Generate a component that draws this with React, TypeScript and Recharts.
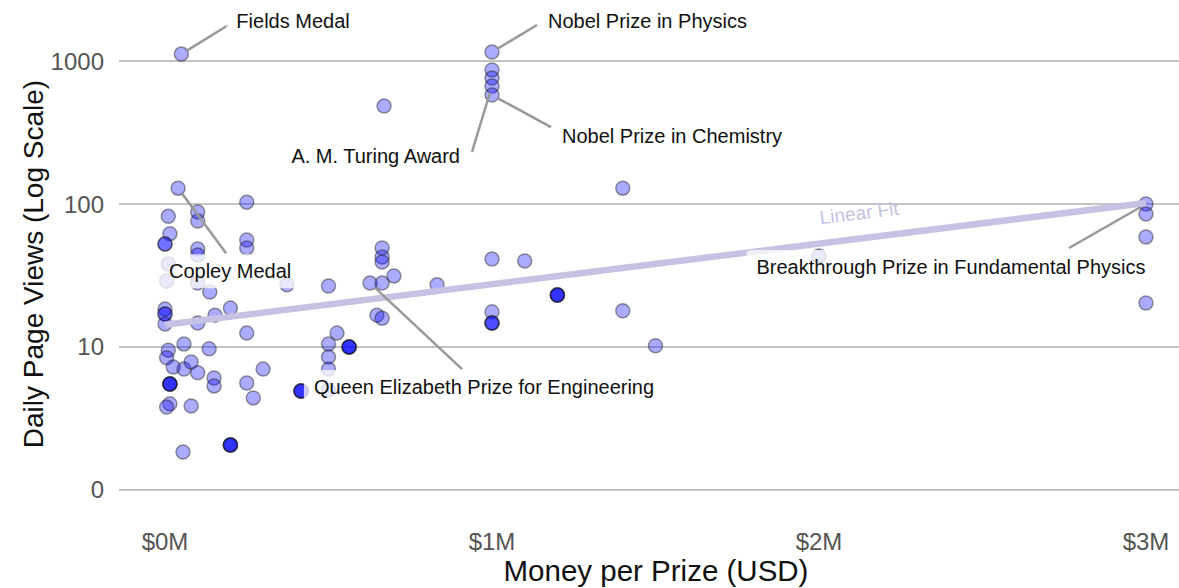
import React from 'react';
import { ScatterChart, Scatter, XAxis, YAxis, ReferenceLine, ReferenceDot } from 'recharts';

// prize money (USD) and daily page views, one entry per prize
const moneyUSD = [
  10000, 15000, 0, 0, 10000, 5000, 0, 0, 0, 0, 10000, 5000,
  15000, 15000, 15000, 15000, 15000, 5000, 25000, 40000, 55000, 58000, 58000,
  80000, 80000, 100000, 100000, 100000, 100000, 100000, 100000, 100000,
  135000, 137000, 150000, 150000, 153000, 200000, 200000, 200000, 200000, 200000,
  250000, 250000, 250000, 250000, 250000, 270000, 300000, 373000,
  416000, 416000, 416000, 416000, 500000, 500000, 500000, 500000, 500000, 526000,
  563000, 563000, 563000, 563000, 627000, 648000, 664000, 664000, 664000, 664000,
  664000, 700000, 670000, 832000, 1000000, 1000000, 1000000, 1000000, 1000000,
  1000000, 1000000, 1000000, 1000000, 1000000, 1100000, 1200000, 1200000, 1200000,
  1200000, 1400000, 1400000, 1500000, 2000000, 3000000, 3000000, 3000000, 3000000,
  50000,
];
const pageViews = [
  82, 62, 52.5, 52.5, 38, 29, 18.4, 17, 17, 14.5, 9.5, 8.4,
  5.5, 5.5, 5.5, 5.5, 4.0, 3.8, 7.25, 129, 1.84, 10.5, 7.0,
  7.85, 3.87, 88, 76, 48.5, 44, 28, 14.7, 6.6,
  9.7, 24.2, 6.07, 5.34, 16.7, 18.7, 2.06, 2.06, 2.06, 2.06,
  103, 56, 49.3, 12.5, 5.6, 4.4, 7.0, 27.2,
  4.92, 4.92, 4.92, 4.92, 26.7, 10.5, 8.5, 7.0, 5.0, 12.5,
  10, 10, 10, 10, 28, 16.7, 15.9, 49.3, 42.6, 39.3,
  28, 31.4, 484, 27.2, 1156, 865, 760, 669, 578,
  41.2, 17.6, 14.7, 14.7, 14.7, 40, 23.1, 23.1, 23.1,
  23.1, 129, 17.9, 10.2, 43.3, 100, 85, 58.8, 20.3,
  1119,
];

const xTicks = [0, 1000000, 2000000, 3000000];
const yTicks = [1, 10, 100, 1000];

const fitMoney = [0, 3000000];
const fitViews = [14.3, 101.6];

// labelled prizes
const annotationNames = [
  'Fields Medal',
  'Nobel Prize in Physics',
  'Nobel Prize in Chemistry',
  'A. M. Turing Award',
  'Copley Medal',
  'Queen Elizabeth Prize for Engineering',
  'Breakthrough Prize in Fundamental Physics',
];
const annotationMoney = [50000, 1000000, 1000000, 1000000, 40000, 627000, 3000000];
const annotationViews = [1119, 1156, 578, 669, 129, 28, 100];

// pixel offsets from the point: line end (lx, ly), text anchor (tx, ty)
const LABEL_LAYOUT: Record<string, { lx: number; ly: number; tx: number; ty: number; anchor: 'start' | 'middle' | 'end' }> = {
  'Fields Medal': { lx: 47, ly: -29, tx: 55, ty: -33, anchor: 'start' },
  'Nobel Prize in Physics': { lx: 45, ly: -27, tx: 56, ty: -31, anchor: 'start' },
  'Nobel Prize in Chemistry': { lx: 59, ly: 32, tx: 70, ty: 41, anchor: 'start' },
  'A. M. Turing Award': { lx: -20, ly: 66, tx: -32, ty: 70, anchor: 'end' },
  'Copley Medal': { lx: 48, ly: 65, tx: 52, ty: 83, anchor: 'middle' },
  'Queen Elizabeth Prize for Engineering': { lx: 92, ly: 86, tx: 114, ty: 104, anchor: 'middle' },
  'Breakthrough Prize in Fundamental Physics': { lx: -77, ly: 44, tx: -195, ty: 63, anchor: 'middle' },
};

const FONT = '"Liberation Sans", Arial, Helvetica, sans-serif';
const LABEL_SIZE = 20;
const FIT_COLOR = '#c6c2e4';

const points = moneyUSD.map((x, i) => ({ x, y: pageViews[i] }));
const fitPoints = fitMoney.map((x, i) => ({ x, y: fitViews[i] }));

let measureCtx: CanvasRenderingContext2D | null = null;
function textWidth(s: string) {
  if (!measureCtx) measureCtx = document.createElement('canvas').getContext('2d');
  if (!measureCtx) return s.length * LABEL_SIZE * 0.5;
  measureCtx.font = `${LABEL_SIZE}px ${FONT}`;
  return measureCtx.measureText(s).width;
}

// value on the fit line (straight in log space)
function fitAt(x: number) {
  const t = (x - fitMoney[0]) / (fitMoney[1] - fitMoney[0]);
  const l0 = Math.log10(fitViews[0]);
  const l1 = Math.log10(fitViews[1]);
  return Math.pow(10, l0 + (l1 - l0) * t);
}

const Dot = (props: any) => (
  <circle
    cx={props.cx}
    cy={props.cy}
    r={7}
    fill="#0000ff"
    fillOpacity={0.33}
    stroke="#222"
    strokeOpacity={0.45}
    strokeWidth={1.5}
  />
);

const Callout = (props: any) => {
  const { cx, cy, name } = props;
  const o = LABEL_LAYOUT[name];
  const len = Math.hypot(o.lx, o.ly);
  const sx = cx + (o.lx / len) * 7;
  const sy = cy + (o.ly / len) * 7;
  const w = textWidth(name);
  const tx = cx + o.tx;
  const ty = cy + o.ty;
  const left = o.anchor === 'start' ? tx : o.anchor === 'end' ? tx - w : tx - w / 2;
  return (
    <g>
      <line x1={sx} y1={sy} x2={cx + o.lx} y2={cy + o.ly} stroke="#999" strokeWidth={2.5} />
      <rect x={left - 10} y={ty - 17} width={w + 20} height={34} rx={5} fill="#fff" fillOpacity={0.75} />
      <text x={tx} y={ty} dy="0.35em" textAnchor={o.anchor} fontSize={LABEL_SIZE} fill="#111">
        {name}
      </text>
    </g>
  );
};

const FitLabel = (props: any) => (
  <text
    x={props.cx}
    y={props.cy - 19}
    textAnchor="middle"
    fontSize={19}
    fill={FIT_COLOR}
    transform={`rotate(-7 ${props.cx} ${props.cy - 19})`}
  >
    Linear Fit
  </text>
);

const YTitle = () => (
  <text x={33} y={264} textAnchor="middle" dominantBaseline="central" fontSize={28} fill="#111" transform="rotate(-90 33 264)">
    Daily Page Views (Log Scale)
  </text>
);

const XTitle = () => (
  <text x={656} y={570} textAnchor="middle" dominantBaseline="central" fontSize={29.5} fill="#111">
    Money per Prize (USD)
  </text>
);

export default function App() {
  return (
    <div style={{ position: 'absolute', left: 0, top: 0, fontFamily: FONT, background: '#fff' }}>
      <ScatterChart width={1179} height={588} margin={{ top: 0, right: 0, bottom: 0, left: 0 }}>
        <XAxis
          type="number"
          dataKey="x"
          domain={[-140700, 3101000]}
          ticks={xTicks}
          allowDataOverflow
          tickFormatter={(v: number) => `$${v / 1000000}M`}
          axisLine={false}
          tickLine={false}
          tickMargin={12}
          height={73}
          tick={{ fill: '#555', fontSize: 24 }}
          label={<XTitle />}
        />
        <YAxis
          type="number"
          dataKey="y"
          scale="log"
          domain={[0.668, 2672]}
          ticks={yTicks}
          allowDataOverflow
          tickFormatter={(v: number) => (v === 1 ? '0' : String(v))}
          axisLine={false}
          tickLine={false}
          tickMargin={9}
          width={119}
          tick={{ fill: '#555', fontSize: 24 }}
          label={<YTitle />}
        />
        {yTicks.map((t) => (
          <ReferenceLine key={t} y={t} stroke="#888" strokeWidth={1} />
        ))}
        <Scatter data={points} shape={Dot} isAnimationActive={false} />
        <Scatter
          data={fitPoints}
          line={{ stroke: FIT_COLOR, strokeWidth: 6.5 }}
          shape={() => <g />}
          isAnimationActive={false}
        />
        <ReferenceDot x={2125000} y={fitAt(2125000)} r={0} shape={FitLabel} />
        {annotationNames.map((name, i) => (
          <ReferenceDot
            key={name}
            x={annotationMoney[i]}
            y={annotationViews[i]}
            r={0}
            shape={(p: any) => <Callout {...p} name={name} />}
          />
        ))}
      </ScatterChart>
    </div>
  );
}
